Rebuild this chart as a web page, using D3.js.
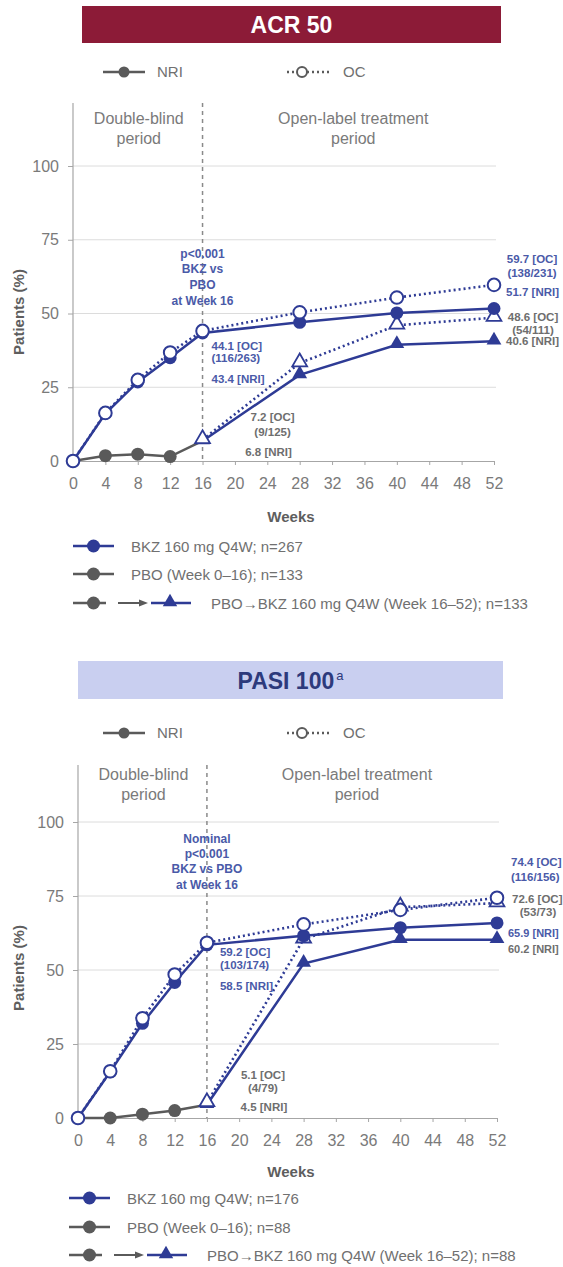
<!DOCTYPE html>
<html><head><meta charset="utf-8">
<script src="https://cdn.jsdelivr.net/npm/d3@7"></script>
<style>body{margin:0;background:#fff;} svg{display:block;font-family:"Liberation Sans",Arial,sans-serif;}</style>
</head><body><svg id="c" width="563" height="1267"></svg>
<script>
// ---------- DATA ----------
const weeks = [0, 4, 8, 12, 16, 28, 40, 52];
const pboWeeks = [0, 4, 8, 12, 16];
const switchWeeks = [16, 28, 40, 52];
const xTickValues = [0, 4, 8, 12, 16, 20, 24, 28, 32, 36, 40, 44, 48, 52];
const yTickValues = [0, 25, 50, 75, 100];

// ACR 50
const acrBkzNri = [0, 16.1, 26.8, 35.0, 43.4, 47.0, 50.2, 51.7];
const acrBkzOc = [0, 16.3, 27.5, 36.8, 44.1, 50.4, 55.4, 59.7];
const acrPboNri = [0, 1.8, 2.3, 1.5, 6.8];
const acrSwitchNri = [6.8, 29.2, 39.4, 40.6];
const acrSwitchOc = [7.2, 33.2, 46.0, 48.6];
const acrLegendLabels = ["BKZ 160 mg Q4W; n=267", "PBO (Week 0\u201316); n=133", "PBO\u2192BKZ 160 mg Q4W (Week 16\u201352); n=133"];

// PASI 100
const pasiBkzNri = [0, 15.6, 32.0, 45.8, 58.5, 61.6, 64.3, 65.9];
const pasiBkzOc = [0, 15.8, 33.7, 48.5, 59.2, 65.4, 70.3, 74.4];
const pasiPboNri = [0, 0, 1.3, 2.5, 4.5];
const pasiSwitchNri = [4.5, 52.2, 60.2, 60.2];
const pasiSwitchOc = [5.1, 60.4, 71.2, 72.6];
const pasiLegendLabels = ["BKZ 160 mg Q4W; n=176", "PBO (Week 0\u201316); n=88", "PBO\u2192BKZ 160 mg Q4W (Week 16\u201352); n=88"];

// ---------- STYLE ----------
const BLUE = "#2E3B95";
const GREY = "#5a5a5a";
const ANN_BLUE = "#4a5aa8";
const ANN_GREY = "#6e6e6e";
const AXIS = "#a6a6a6";
const TXT = "#707070";

const svg = d3.select("#c");

function drawPanel(p) {
  const g = svg.append("g");
  const x = d3.scaleLinear().domain([0, 52]).range(p.xr);
  const y = d3.scaleLinear().domain([0, 100]).range(p.yr);

  // header bar
  g.append("rect").attr("x", p.bar[0]).attr("y", p.bar[1]).attr("width", p.bar[2] - p.bar[0]).attr("height", p.bar[3] - p.bar[1]).attr("fill", p.barFill);
  const tt = g.append("text").attr("x", (p.bar[0] + p.bar[2]) / 2).attr("y", p.titleBase).attr("text-anchor", "middle")
    .attr("font-size", 23).attr("font-weight", "bold").attr("fill", p.titleColor).text(p.title);
  if (p.titleSup) tt.append("tspan").attr("font-size", 13).attr("font-weight", "normal").attr("dy", -9).attr("dx", 2).text(p.titleSup);

  // top legend NRI / OC
  const ly = p.legendY;
  g.append("line").attr("x1", 103).attr("x2", 145).attr("y1", ly).attr("y2", ly).attr("stroke", GREY).attr("stroke-width", 2.5);
  g.append("circle").attr("cx", 124).attr("cy", ly).attr("r", 5.5).attr("fill", GREY);
  g.append("text").attr("x", 157).attr("y", ly + 5).attr("font-size", 15).attr("fill", TXT).text("NRI");
  g.append("line").attr("x1", 287).attr("x2", 330).attr("y1", ly).attr("y2", ly).attr("stroke", GREY).attr("stroke-width", 2.5).attr("stroke-dasharray", "2,3");
  g.append("circle").attr("cx", 302).attr("cy", ly).attr("r", 5).attr("fill", "#fff").attr("stroke", GREY).attr("stroke-width", 2);
  g.append("text").attr("x", 343).attr("y", ly + 5).attr("font-size", 15).attr("fill", TXT).text("OC");

  // gridlines
  g.selectAll(".grid").data(yTickValues.filter(v => v > 0)).enter().append("line")
    .attr("x1", x(0)).attr("x2", x(52) + 2).attr("y1", d => y(d)).attr("y2", d => y(d))
    .attr("stroke", "#dcdcdc").attr("stroke-width", 1);

  // y axis
  const ya = g.append("g").attr("transform", `translate(${x(0)},0)`)
    .call(d3.axisLeft(y).tickValues(yTickValues).tickSize(5).tickPadding(9));
  ya.select(".domain").remove();
  ya.selectAll("line").attr("stroke", AXIS);
  ya.selectAll("text").attr("font-size", 16).attr("fill", "#7a7a7a").attr("font-family", "Liberation Sans, Arial, sans-serif");
  g.append("line").attr("x1", x(0)).attr("x2", x(0)).attr("y1", p.axisTop).attr("y2", y(0)).attr("stroke", AXIS).attr("stroke-width", 1.2);

  // x axis
  const xa = g.append("g").attr("transform", `translate(0,${y(0)})`)
    .call(d3.axisBottom(x).tickValues(xTickValues).tickSize(4).tickSizeOuter(0).tickPadding(13));
  xa.select(".domain").attr("stroke", AXIS).attr("stroke-width", 1.2);
  xa.selectAll("line").attr("stroke", AXIS);
  xa.selectAll("text").attr("font-size", 16).attr("fill", "#7a7a7a").attr("font-family", "Liberation Sans, Arial, sans-serif");

  // dashed week-16 line
  g.append("line").attr("x1", x(16)).attr("x2", x(16)).attr("y1", p.axisTop).attr("y2", y(0))
    .attr("stroke", "#8a8a8a").attr("stroke-width", 1.5).attr("stroke-dasharray", "4,4");

  // period labels
  const dbx = (x(0) + x(16)) / 2 + 1, olx = (x(16) + x(52)) / 2 + 5;
  [["Double-blind", "period", dbx], ["Open-label treatment", "period", olx]].forEach(([a, b, cx]) => {
    g.append("text").attr("x", cx).attr("y", p.periodY).attr("text-anchor", "middle").attr("font-size", 16).attr("fill", "#7a7a7a").text(a);
    g.append("text").attr("x", cx).attr("y", p.periodY + 20).attr("text-anchor", "middle").attr("font-size", 16).attr("fill", "#7a7a7a").text(b);
  });

  // axis titles
  g.append("text").attr("transform", `translate(24,${p.yTitleY}) rotate(-90)`).attr("text-anchor", "middle")
    .attr("font-size", 15).attr("font-weight", "bold").attr("fill", "#5e5e5e").text("Patients (%)");
  g.append("text").attr("x", 291).attr("y", p.weeksY).attr("text-anchor", "middle")
    .attr("font-size", 15).attr("font-weight", "bold").attr("fill", "#5e5e5e").text("Weeks");

  // series
  const line = d3.line().x(d => x(d[0])).y(d => y(d[1]));
  const zip = (w, v) => w.map((d, i) => [d, v[i]]);
  const tri = d3.symbol().type(d3.symbolTriangle).size(95);

  const pbo = zip(pboWeeks, p.pboNri);
  const swN = zip(switchWeeks, p.swNri);
  const swO = zip(switchWeeks, p.swOc);
  const bkN = zip(weeks, p.bkNri);
  const bkO = zip(weeks, p.bkOc);

  g.append("path").datum(pbo).attr("d", line).attr("fill", "none").attr("stroke", GREY).attr("stroke-width", 2.5);
  g.selectAll(".pbo").data(pbo.filter(d => d[0] > 0 && d[0] < 16)).enter().append("circle")
    .attr("cx", d => x(d[0])).attr("cy", d => y(d[1])).attr("r", 6.5).attr("fill", GREY);

  g.append("path").datum(swN).attr("d", line).attr("fill", "none").attr("stroke", BLUE).attr("stroke-width", 2.5);
  g.selectAll(".swn").data(swN).enter().append("path").attr("d", tri)
    .attr("transform", d => `translate(${x(d[0])},${y(d[1]) - 1})`).attr("fill", BLUE);

  g.append("path").datum(swO).attr("d", line).attr("fill", "none").attr("stroke", BLUE).attr("stroke-width", 2.6).attr("stroke-dasharray", "2,3");
  g.selectAll(".swo").data(swO).enter().append("path").attr("d", tri)
    .attr("transform", d => `translate(${x(d[0])},${y(d[1]) - 1})`).attr("fill", "#fff").attr("stroke", BLUE).attr("stroke-width", 1.8);

  g.append("path").datum(bkN).attr("d", line).attr("fill", "none").attr("stroke", BLUE).attr("stroke-width", 2.5);
  g.selectAll(".bkn").data(bkN).enter().append("circle")
    .attr("cx", d => x(d[0])).attr("cy", d => y(d[1])).attr("r", 6.5).attr("fill", BLUE);

  g.append("path").datum(bkO).attr("d", line).attr("fill", "none").attr("stroke", BLUE).attr("stroke-width", 2.6).attr("stroke-dasharray", "2,3");
  g.selectAll(".bko").data(bkO).enter().append("circle")
    .attr("cx", d => x(d[0])).attr("cy", d => y(d[1])).attr("r", 6.3).attr("fill", "#fff").attr("stroke", BLUE).attr("stroke-width", 2);

  // annotations: [text, week, value(baseline), dx, anchor, color, size]
  p.ann.forEach(a => {
    g.append("text").attr("x", x(a[1]) + a[3]).attr("y", y(a[2])).attr("text-anchor", a[4])
      .attr("font-size", a[6] || 11.5).attr("font-weight", "bold").attr("fill", a[5]).text(a[0]);
  });

  // bottom legend
  const lr = p.legRows, lx0 = p.legX;
  p.legendLabels.forEach((lab, i) => {
    const yy = lr[i];
    if (i < 2) {
      const col = i === 0 ? BLUE : GREY;
      g.append("line").attr("x1", lx0).attr("x2", lx0 + 41).attr("y1", yy).attr("y2", yy).attr("stroke", col).attr("stroke-width", 2.5);
      g.append("circle").attr("cx", lx0 + 20.5).attr("cy", yy).attr("r", 6.5).attr("fill", col);
      g.append("text").attr("x", lx0 + 58).attr("y", yy + 5.5).attr("font-size", 15).attr("fill", TXT).text(lab);
    } else {
      g.append("line").attr("x1", lx0).attr("x2", lx0 + 33).attr("y1", yy).attr("y2", yy).attr("stroke", GREY).attr("stroke-width", 2.5);
      g.append("circle").attr("cx", lx0 + 20.5).attr("cy", yy).attr("r", 6.5).attr("fill", GREY);
      g.append("line").attr("x1", lx0 + 45).attr("x2", lx0 + 68).attr("y1", yy).attr("y2", yy).attr("stroke", GREY).attr("stroke-width", 2);
      g.append("path").attr("d", `M${lx0 + 75},${yy} L${lx0 + 66},${yy - 3.5} L${lx0 + 66},${yy + 3.5} Z`).attr("fill", GREY);
      g.append("line").attr("x1", lx0 + 78).attr("x2", lx0 + 118).attr("y1", yy).attr("y2", yy).attr("stroke", BLUE).attr("stroke-width", 2.5);
      g.append("path").attr("d", d3.symbol().type(d3.symbolTriangle).size(90)).attr("transform", `translate(${lx0 + 97},${yy - 1})`).attr("fill", BLUE);
      g.append("text").attr("x", lx0 + 138).attr("y", yy + 5.5).attr("font-size", 15).attr("fill", TXT).text(lab);
    }
  });
}

drawPanel({
  title: "ACR 50", titleSup: null, barFill: "#8C1B37", titleColor: "#ffffff",
  bar: [82, 6, 501, 43], titleBase: 33,
  legendY: 72, xr: [73, 494], yr: [461, 166], axisTop: 103, periodY: 124,
  yTitleY: 312, weeksY: 522,
  bkNri: acrBkzNri, bkOc: acrBkzOc, pboNri: acrPboNri, swNri: acrSwitchNri, swOc: acrSwitchOc,
  ann: [
    ["p<0.001", 16, 68.8, 0, "middle", ANN_BLUE, 12],
    ["BKZ vs", 16, 63.6, 0, "middle", ANN_BLUE, 12],
    ["PBO", 16, 58.3, 0, "middle", ANN_BLUE, 12],
    ["at Week 16", 16, 53.0, 0, "middle", ANN_BLUE, 12],
    ["44.1 [OC]", 16, 37.6, 9, "start", ANN_BLUE],
    ["(116/263)", 16, 33.6, 9, "start", ANN_BLUE],
    ["43.4 [NRI]", 16, 26.4, 9, "start", ANN_BLUE],
    ["7.2 [OC]", 16, 13.7, 70, "middle", ANN_GREY],
    ["(9/125)", 16, 8.5, 70, "middle", ANN_GREY],
    ["6.8 [NRI]", 16, 1.8, 66, "middle", ANN_GREY],
    ["59.7 [OC]", 52, 67.0, 38, "middle", ANN_BLUE],
    ["(138/231)", 52, 62.3, 38, "middle", ANN_BLUE],
    ["51.7 [NRI]", 52, 55.9, 12, "start", ANN_BLUE],
    ["48.6 [OC]", 52, 47.5, 39, "middle", ANN_GREY],
    ["(54/111)", 52, 43.1, 39, "middle", ANN_GREY],
    ["40.6 [NRI]", 52, 39.3, 12, "start", ANN_GREY]
  ],
  legendLabels: acrLegendLabels, legRows: [546, 574, 603], legX: 73
});

drawPanel({
  title: "PASI 100", titleSup: "a", barFill: "#C9CFF0", titleColor: "#2D3A7C",
  bar: [78, 661, 503, 699], titleBase: 689,
  legendY: 733, xr: [78, 497], yr: [1118, 822], axisTop: 765, periodY: 780,
  yTitleY: 968, weeksY: 1177,
  bkNri: pasiBkzNri, bkOc: pasiBkzOc, pboNri: pasiPboNri, swNri: pasiSwitchNri, swOc: pasiSwitchOc,
  ann: [
    ["Nominal", 16, 93.0, 0, "middle", ANN_BLUE, 12],
    ["p<0.001", 16, 88.0, 0, "middle", ANN_BLUE, 12],
    ["BKZ vs PBO", 16, 82.7, 0, "middle", ANN_BLUE, 12],
    ["at Week 16", 16, 77.4, 0, "middle", ANN_BLUE, 12],
    ["59.2 [OC]", 16, 54.7, 13, "start", ANN_BLUE],
    ["(103/174)", 16, 50.3, 13, "start", ANN_BLUE],
    ["58.5 [NRI]", 16, 43.2, 13, "start", ANN_BLUE],
    ["5.1 [OC]", 16, 13.2, 56, "middle", ANN_GREY],
    ["(4/79)", 16, 8.8, 56, "middle", ANN_GREY],
    ["4.5 [NRI]", 16, 2.4, 57, "middle", ANN_GREY],
    ["74.4 [OC]", 52, 85.1, 14, "start", ANN_BLUE],
    ["(116/156)", 52, 80.0, 14, "start", ANN_BLUE],
    ["72.6 [OC]", 52, 72.6, 15, "start", ANN_GREY],
    ["(53/73)", 52, 68.2, 41, "middle", ANN_GREY],
    ["65.9 [NRI]", 52, 61.1, 11, "start", ANN_BLUE, 11],
    ["60.2 [NRI]", 52, 55.7, 11, "start", ANN_GREY, 11]
  ],
  legendLabels: pasiLegendLabels, legRows: [1198, 1227, 1255], legX: 69
});
</script>
</body></html>
